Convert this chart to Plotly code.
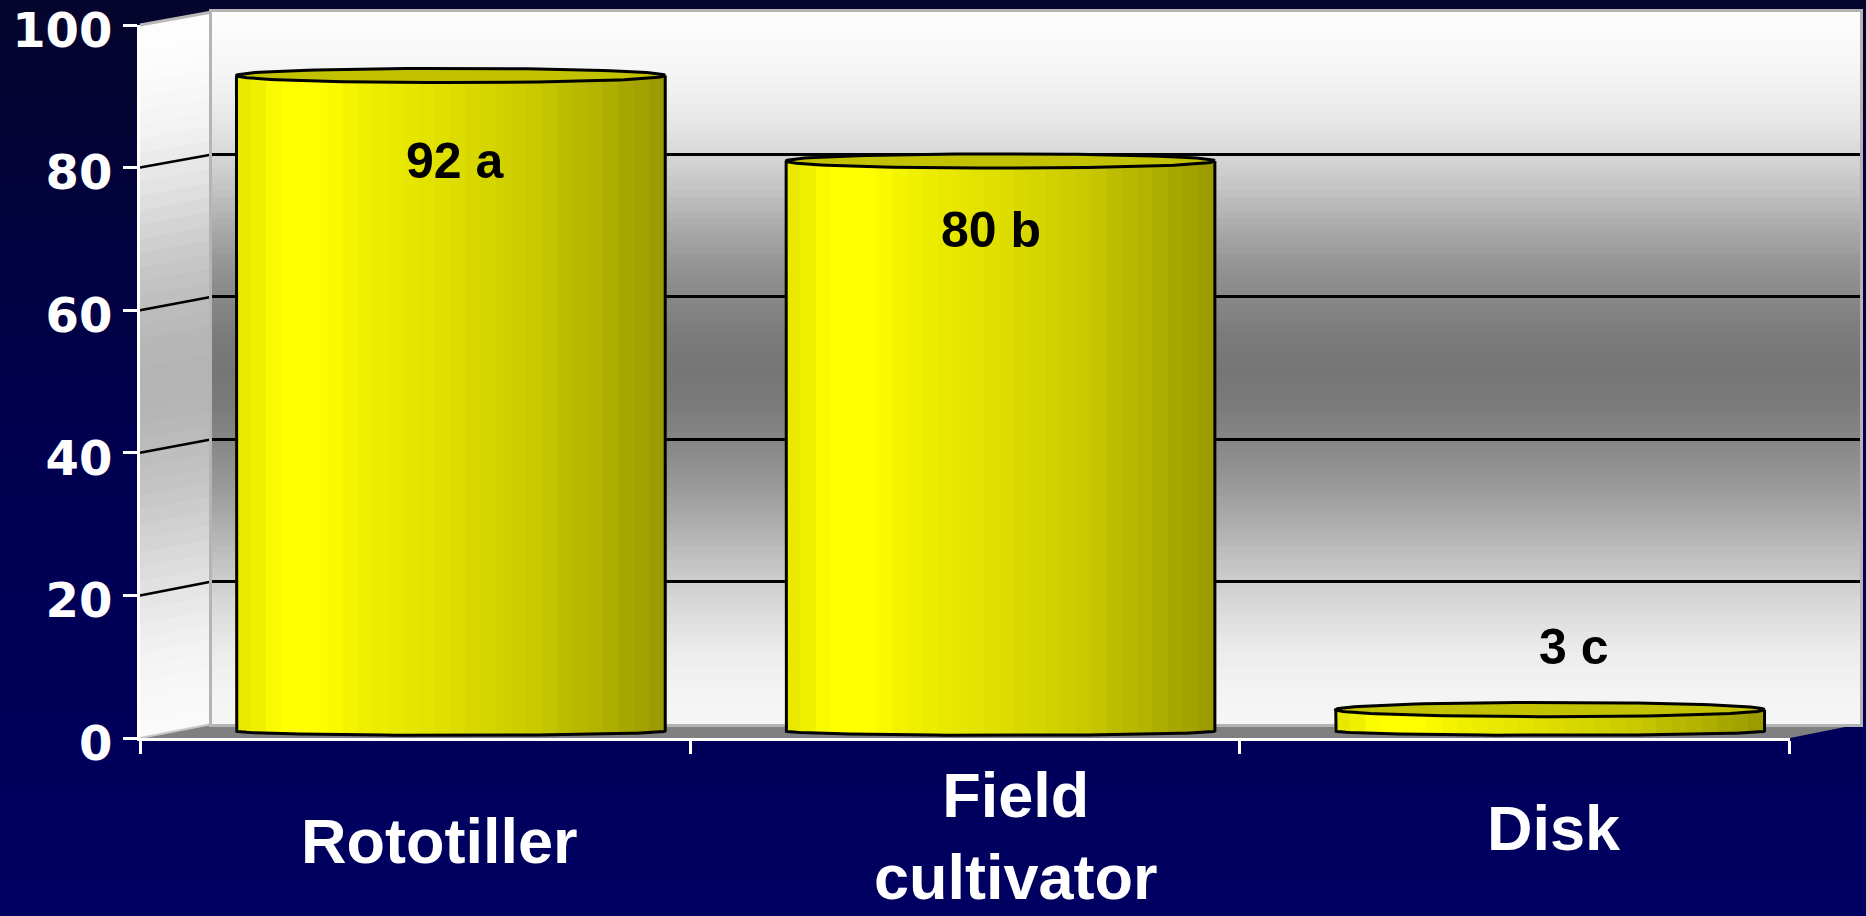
import numpy as np
import plotly.graph_objects as go

# ---------------- data ----------------
categories = ["Rototiller", "Field<br>cultivator", "Disk"]
values = [92, 80, 3]
letters = ["a", "b", "c"]
y_ticks = [0, 20, 40, 60, 80, 100]

# ---------------- geometry / style ----------------
W, H = 1866, 916


def px(x):
    return x / W


def py(y):
    return 1 - y / H


FRONT = dict(x0=140, x1=1790, y0=738, y100=25)
BACK = dict(x0=212, x1=1860, y0=724, y100=12)
MID = dict(x0=176, x1=1825, y0=731, y100=18.5)
MID_LO = -5
X_RANGE = [-0.5, 2.5]


def fy(g, v):
    return g["y0"] + (g["y100"] - g["y0"]) * v / 100.0


LABEL_FONT = "Liberation Sans, Arial, sans-serif"
TICK_FONT = "DejaVu Sans, Verdana, sans-serif"
CAT_LABEL_Y = [841, 836, 828]   # pixel centres of category labels
CAT_LABEL_DX = [-11, 15, 4]     # small horizontal nudges (px)
VAL_LABEL_DX = [5, -10, 24]
VAL_LABEL_DY = [-12, -9.7, 8.8]  # label offset from bar top (value units)

HALF_W = 0.39      # half width of a cylinder (category units)
R_TOP = 1.0        # top ellipse half-height (value units)
R_BOT = 0.6        # bottom arc depth (value units)
N_STRIPS = 28

wall_v = [0, 5, 10, 15, 20, 25, 30, 35, 40, 45, 50, 55, 60, 65, 70, 75, 80, 85, 92, 100]
wall_g = [246, 243, 236, 222, 205, 186, 166, 148, 134, 122, 118, 124, 136, 150, 172, 195, 215, 232, 246, 253]


def wall_gray(v):
    return float(np.interp(v, wall_v, wall_g))


def gray(c):
    c = int(round(c))
    return f"rgb({c},{c},{c})"


bar_u = [0, 0.04, 0.07, 0.1, 0.19, 0.3, 0.5, 0.72, 0.75, 0.85, 0.92, 1.0]
bar_f = [0.90, 0.93, 0.95, 1.0, 1.0, 0.94, 0.87, 0.78, 0.75, 0.70, 0.65, 0.60]


def bar_color(u):
    f = float(np.interp(u, bar_u, bar_f))
    c = int(round(255 * f))
    return f"rgb({c},{c},0)"


shapes = []

# page background gradient (navy)
NB = 46
for k in range(NB):
    t = (k + 0.5) / NB
    b = int(round(np.interp(t, [0, 0.5, 1], [44, 80, 97])))
    rg = int(round(np.interp(t, [0, 0.5, 1], [5, 0, 0])))
    shapes.append(dict(type="rect", xref="paper", yref="paper", x0=0, x1=1,
                       y0=max(0, 1 - (k + 1.02) / NB), y1=1 - k / NB,
                       fillcolor=f"rgb({rg},{rg},{b})", line=dict(width=0), layer="below"))

# side wall gradient
NS = 50
for k in range(NS):
    va, vb = 100 * k / NS, min(100, 100 * (k + 1.15) / NS)
    c = 255 - (255 - wall_gray((va + vb) / 2)) * 0.55
    path = (f"M {px(FRONT['x0'])},{py(fy(FRONT, va))} L {px(BACK['x0'])},{py(fy(BACK, va))} "
            f"L {px(BACK['x0'])},{py(fy(BACK, vb))} L {px(FRONT['x0'])},{py(fy(FRONT, vb))} Z")
    shapes.append(dict(type="path", xref="paper", yref="paper", path=path,
                       fillcolor=gray(c), line=dict(width=0), layer="below"))

# floor
floor_path = (f"M {px(FRONT['x0'])},{py(FRONT['y0'])} L {px(FRONT['x1'])},{py(FRONT['y0'])} "
              f"L {px(BACK['x1'])},{py(BACK['y0'])} L {px(BACK['x0'])},{py(BACK['y0'])} Z")
shapes.append(dict(type="path", xref="paper", yref="paper", path=floor_path,
                   fillcolor="rgb(128,128,128)", line=dict(width=0), layer="below"))

# side wall grid lines and edges
for v in y_ticks:
    if v == 0:
        col, wdt = "rgb(200,200,200)", 2
    elif v == 100:
        col, wdt = "rgb(185,185,185)", 3
    else:
        col, wdt = "black", 2.5
    shapes.append(dict(type="line", xref="paper", yref="paper",
                       x0=px(FRONT['x0']), y0=py(fy(FRONT, v)),
                       x1=px(BACK['x0']), y1=py(fy(BACK, v)),
                       line=dict(color=col, width=wdt), layer="below"))

# back wall gradient (in back-wall data coords)
for v in range(0, 100):
    shapes.append(dict(type="rect", xref="x", yref="y", x0=X_RANGE[0], x1=X_RANGE[1],
                       y0=v, y1=v + 1.3, fillcolor=gray(wall_gray(v + 0.5)),
                       line=dict(width=0), layer="below"))

fig = go.Figure()

# placeholder traces so subplots are stacked back -> front -> bars
fig.add_trace(go.Scatter(x=[None], y=[None], xaxis="x", yaxis="y", showlegend=False, hoverinfo="skip"))
fig.add_trace(go.Scatter(x=[None], y=[None], xaxis="x2", yaxis="y2", showlegend=False, hoverinfo="skip"))

u = (np.arange(N_STRIPS) + 0.5) / N_STRIPS
bot_arc = -R_BOT * np.sqrt(np.clip(1 - (2 * u - 1) ** 2, 0, 1))
strip_w = 2 * HALF_W / N_STRIPS * 1.15
strip_colors = [bar_color(t) for t in u]

annotations = []
for i, (cat, v, let) in enumerate(zip(categories, values, letters)):
    xs = i - HALF_W + u * 2 * HALF_W
    fig.add_trace(go.Bar(x=xs, y=v - bot_arc, base=bot_arc, width=strip_w,
                         marker=dict(color=strip_colors, line=dict(width=0)),
                         xaxis="x3", yaxis="y3", showlegend=False, hoverinfo="skip"))
    # top ellipse
    t = np.linspace(0, 2 * np.pi, 121)
    fig.add_trace(go.Scatter(x=i + HALF_W * np.cos(t), y=v + R_TOP * np.sin(t),
                             mode="lines", fill="toself", fillcolor="rgb(194,194,0)",
                             line=dict(color="black", width=3),
                             xaxis="x3", yaxis="y3", showlegend=False, hoverinfo="skip"))
    # silhouette outline
    ta = np.linspace(np.pi, 2 * np.pi, 61)
    ox = [i - HALF_W, i - HALF_W] + list(i + HALF_W * np.cos(ta)) + [i + HALF_W, i + HALF_W]
    oy = [v, 0] + list(R_BOT * np.sin(ta)) + [0, v]
    fig.add_trace(go.Scatter(x=ox, y=oy, mode="lines", line=dict(color="black", width=3),
                             xaxis="x3", yaxis="y3", showlegend=False, hoverinfo="skip"))
    # value label
    annotations.append(dict(x=i, y=v + VAL_LABEL_DY[i], xref="x3", yref="y3", text=f"{v} {let}",
                            xshift=VAL_LABEL_DX[i],
                            showarrow=False, xanchor="center", yanchor="middle",
                            font=dict(family=LABEL_FONT, size=50, color="black", weight="bold")))
    # category label
    annotations.append(dict(x=i, y=py(CAT_LABEL_Y[i]), xref="x3", yref="paper", text=cat,
                            xshift=CAT_LABEL_DX[i],
                            showarrow=False, xanchor="center", yanchor="middle",
                            font=dict(family=LABEL_FONT, size=63, color="white", weight="bold")))

mid_y_lo_px = fy(MID, MID_LO)

fig.update_layout(
    template="none",
    width=W, height=H, autosize=False,
    margin=dict(l=0, r=0, t=0, b=0, pad=0),
    paper_bgcolor="rgb(0,0,80)", plot_bgcolor="rgba(0,0,0,0)",
    showlegend=False, barmode="overlay",
    shapes=shapes, annotations=annotations,
    xaxis=dict(domain=[px(BACK['x0']), px(BACK['x1'])], range=X_RANGE, anchor="y",
               automargin=False,
               showgrid=False, zeroline=False, showticklabels=False, ticks="",
               showline=True, mirror=True, linecolor="rgb(180,180,180)", linewidth=3,
               fixedrange=True),
    yaxis=dict(domain=[py(BACK['y0']), py(BACK['y100'])], range=[0, 100], anchor="x",
               automargin=False,
               tickvals=[20, 40, 60, 80], showgrid=True, gridcolor="black", gridwidth=2.5,
               showticklabels=False, ticks="", zeroline=False,
               showline=True, mirror=True, linecolor="rgb(180,180,180)", linewidth=3,
               fixedrange=True),
    xaxis2=dict(domain=[px(FRONT['x0']), px(FRONT['x1'])], range=[-0.5001, 2.5001], anchor="y2",
                automargin=False,
                showline=True, linecolor="white", linewidth=3,
                ticks="outside", ticklen=13, tickwidth=3, tickcolor="white",
                tickvals=[-0.5, 0.5, 1.5, 2.5], showticklabels=False,
                showgrid=False, zeroline=False, fixedrange=True),
    yaxis2=dict(domain=[py(FRONT['y0']), py(FRONT['y100'])], range=[0, 100], anchor="x2",
                automargin=False,
                showline=True, linecolor="white", linewidth=3,
                ticks="outside", ticklen=14, tickwidth=3, tickcolor="white",
                tickvals=y_ticks, ticklabelstandoff=1, ticklabelshift=5,
                ticklabeloverflow="allow",
                tickfont=dict(family=TICK_FONT, size=48, color="white", weight="bold"),
                showgrid=False, zeroline=False, fixedrange=True),
    xaxis3=dict(domain=[px(MID['x0']), px(MID['x1'])], range=X_RANGE, anchor="y3",
                automargin=False, visible=False, fixedrange=True),
    yaxis3=dict(domain=[py(mid_y_lo_px), py(MID['y100'])], range=[MID_LO, 100], anchor="x3",
                automargin=False, visible=False, fixedrange=True),
)

post = ("document.documentElement.style.margin='0';document.documentElement.style.padding='0';"
        "document.body.style.margin='0';document.body.style.padding='0';"
        "document.body.style.overflow='hidden';document.documentElement.style.overflow='hidden';"
        "document.body.style.background='rgb(0,0,80)';")

fig.write_html("out.html", config={"displayModeBar": False}, post_script=post)
